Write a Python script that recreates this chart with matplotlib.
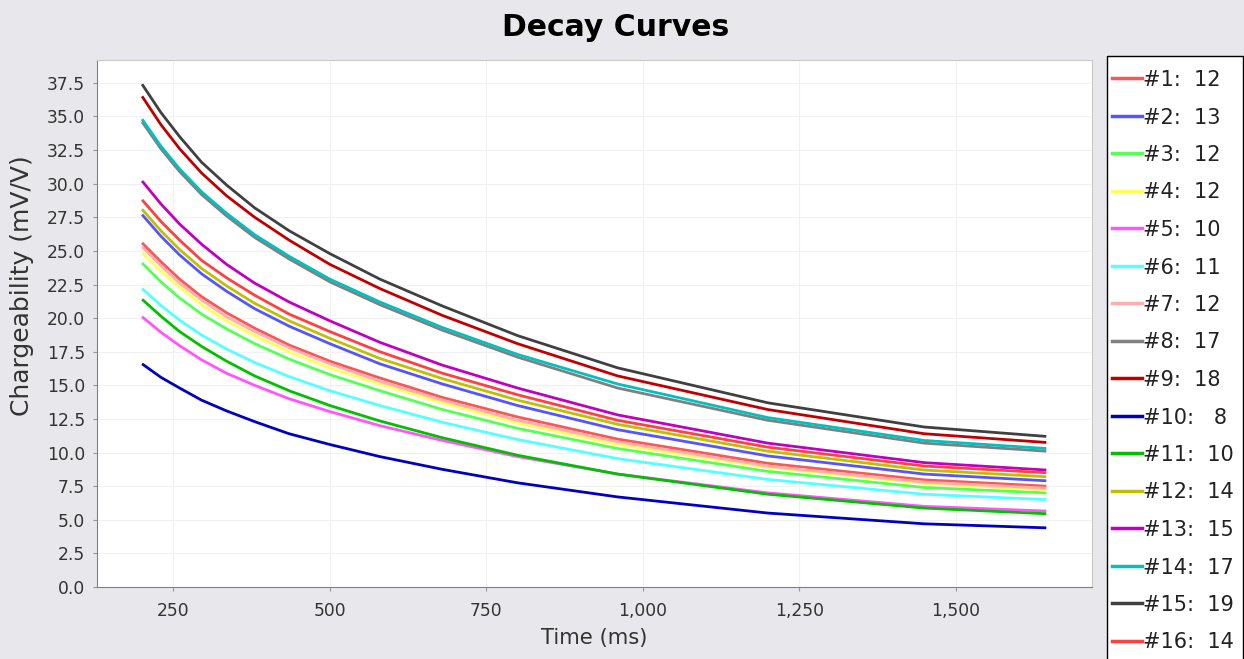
import matplotlib
matplotlib.use("Agg")
import matplotlib.pyplot as plt
from matplotlib.ticker import FuncFormatter, MultipleLocator
from matplotlib.patches import Rectangle
from matplotlib.lines import Line2D

plt.rcParams['font.family'] = ['DejaVu Sans']

# Time gates (ms)
times = [200, 230, 260, 295, 335, 380, 435, 500, 580, 680, 800, 960, 1200, 1450, 1645]

# Series labels (legend numbers)
series_ids = [1, 2, 3, 4, 5, 6, 7, 8, 9, 10, 11, 12, 13, 14, 15, 16]
legend_nums = [12, 13, 12, 12, 10, 11, 12, 17, 18, 8, 10, 14, 15, 17, 19, 14]

s1 = [25.6, 24.2, 22.9, 21.6, 20.4, 19.25, 18.0, 16.8, 15.55, 14.1, 12.65, 11.0, 9.2, 7.97, 7.5]
s2 = [27.7, 26.1, 24.7, 23.3, 22.0, 20.7, 19.4, 18.1, 16.6, 15.1, 13.5, 11.7, 9.75, 8.4, 7.9]
s3 = [24.1, 22.7, 21.5, 20.3, 19.2, 18.1, 16.95, 15.8, 14.6, 13.2, 11.8, 10.3, 8.6, 7.4, 7.0]
s4 = [24.9, 23.5, 22.3, 21.0, 19.8, 18.7, 17.5, 16.3, 15.1, 13.7, 12.2, 10.6, 8.9, 7.7, 7.2]
s5 = [20.1, 18.95, 17.95, 16.9, 15.9, 15.0, 14.0, 13.05, 12.0, 10.9, 9.7, 8.4, 7.0, 6.0, 5.65]
s6 = [22.2, 20.95, 19.85, 18.75, 17.7, 16.7, 15.65, 14.6, 13.5, 12.25, 10.97, 9.55, 8.0, 6.9, 6.5]
s7 = [25.3, 23.9, 22.6, 21.35, 20.1, 19.0, 17.8, 16.6, 15.3, 13.9, 12.4, 10.8, 9.0, 7.8, 7.35]
s8 = [34.6, 32.6, 30.9, 29.2, 27.6, 26.0, 24.4, 22.7, 21.0, 19.1, 17.1, 14.8, 12.4, 10.7, 10.1]
s9 = [36.5, 34.4, 32.6, 30.8, 29.1, 27.5, 25.8, 24.0, 22.2, 20.2, 18.1, 15.7, 13.2, 11.4, 10.75]
s10 = [16.6, 15.6, 14.8, 13.9, 13.1, 12.3, 11.4, 10.6, 9.7, 8.75, 7.75, 6.7, 5.5, 4.7, 4.4]
s11 = [21.4, 20.15, 19.0, 17.9, 16.8, 15.7, 14.6, 13.5, 12.35, 11.1, 9.8, 8.4, 6.9, 5.87, 5.45]
s12 = [28.1, 26.5, 25.1, 23.7, 22.4, 21.1, 19.8, 18.5, 17.0, 15.5, 13.9, 12.1, 10.1, 8.7, 8.2]
s13 = [30.2, 28.5, 27.0, 25.5, 24.0, 22.6, 21.2, 19.8, 18.2, 16.5, 14.8, 12.8, 10.7, 9.25, 8.7]
s14 = [34.8, 32.8, 31.1, 29.4, 27.8, 26.2, 24.6, 22.9, 21.2, 19.3, 17.3, 15.1, 12.6, 10.9, 10.3]
s15 = [37.4, 35.3, 33.5, 31.6, 29.9, 28.2, 26.5, 24.8, 22.9, 20.9, 18.7, 16.3, 13.7, 11.9, 11.2]
s16 = [28.8, 27.2, 25.8, 24.3, 23.0, 21.7, 20.3, 19.0, 17.5, 15.9, 14.3, 12.4, 10.4, 9.0, 8.5]

series = [s1, s2, s3, s4, s5, s6, s7, s8, s9, s10, s11, s12, s13, s14, s15, s16]

colors = ['#FF5555', '#5555FF', '#55FF55', '#FFFF55', '#FF55FF', '#55FFFF',
          '#FFAFAF', '#808080', '#C00000', '#0000C0', '#00C000', '#C0C000',
          '#C000C0', '#00C0C0', '#404040', '#FF4040']

W, H = 1244, 659
fig = plt.figure(figsize=(W / 100, H / 100), dpi=100)
fig.patch.set_facecolor('#e8e8ec')

left, right, top, bottom = 97, 1092, 60, 587
ax = fig.add_axes([left / W, 1 - bottom / H, (right - left) / W, (bottom - top) / H])
ax.set_facecolor('white')

for sid, vals, c in zip(series_ids, series, colors):
    ax.plot(times, vals, color=c, lw=2.0, label=f"#{sid}",
            solid_capstyle='butt', solid_joinstyle='round')

ax.set_xlim(128, 1718)
ax.set_ylim(0, 39.2)
ax.yaxis.set_major_locator(MultipleLocator(2.5))
ax.xaxis.set_major_locator(MultipleLocator(250))
ax.yaxis.set_major_formatter(FuncFormatter(lambda v, p: f"{v:.1f}"))
ax.xaxis.set_major_formatter(FuncFormatter(lambda v, p: f"{int(round(v)):,}"))
ax.grid(True, color='#f1f1f1', lw=0.8)
ax.set_axisbelow(True)

for s in ['top', 'right']:
    ax.spines[s].set_color('#c8c8c8')
for s in ['left', 'bottom']:
    ax.spines[s].set_color('#808080')
ax.tick_params(axis='both', labelsize=12.3, labelcolor='#333333', color='#999999',
               length=3, width=0.8, direction='out')
ax.tick_params(axis='x', pad=8.0)
ax.tick_params(axis='y', pad=5.5)

ax.set_xlabel('Time (ms)', fontsize=15.2, color='#333333')
ax.set_ylabel('Chargeability (mV/V)', fontsize=18, color='#333333')
ax.xaxis.set_label_coords((594 - left) / (right - left), -(638 - bottom) / (bottom - top))
ax.yaxis.set_label_coords(-(left - 22) / (right - left), (bottom - 286) / (bottom - top))
ax.xaxis.label.set_va('center')
ax.yaxis.label.set_va('center')

fig.text(616 / W, 1 - 28 / H, 'Decay Curves', ha='center', va='center',
         fontsize=21.5, fontweight='bold', color='black')

# legend frame (extends past the figure edge as in the reference)
fig.patches.append(Rectangle((1107 / W, -0.1), (1243 - 1107) / W, 1 - 56 / H + 0.1,
                             transform=fig.transFigure, facecolor='white',
                             edgecolor='black', lw=1.0, zorder=0))
for i, (sid, num, c) in enumerate(zip(series_ids, legend_nums, colors)):
    yp = 1 - (78 + 37.5 * i) / H
    gap = '   ' if num < 10 else '  '
    fig.add_artist(Line2D([1112 / W, 1142 / W], [yp, yp], color=c, lw=2.5,
                          transform=fig.transFigure))
    fig.text(1143 / W, yp, f"#{sid}:{gap}{num}", ha='left', va='center_baseline',
             fontsize=15, color='#222222')

fig.savefig('out.png', dpi=100, facecolor=fig.get_facecolor())
